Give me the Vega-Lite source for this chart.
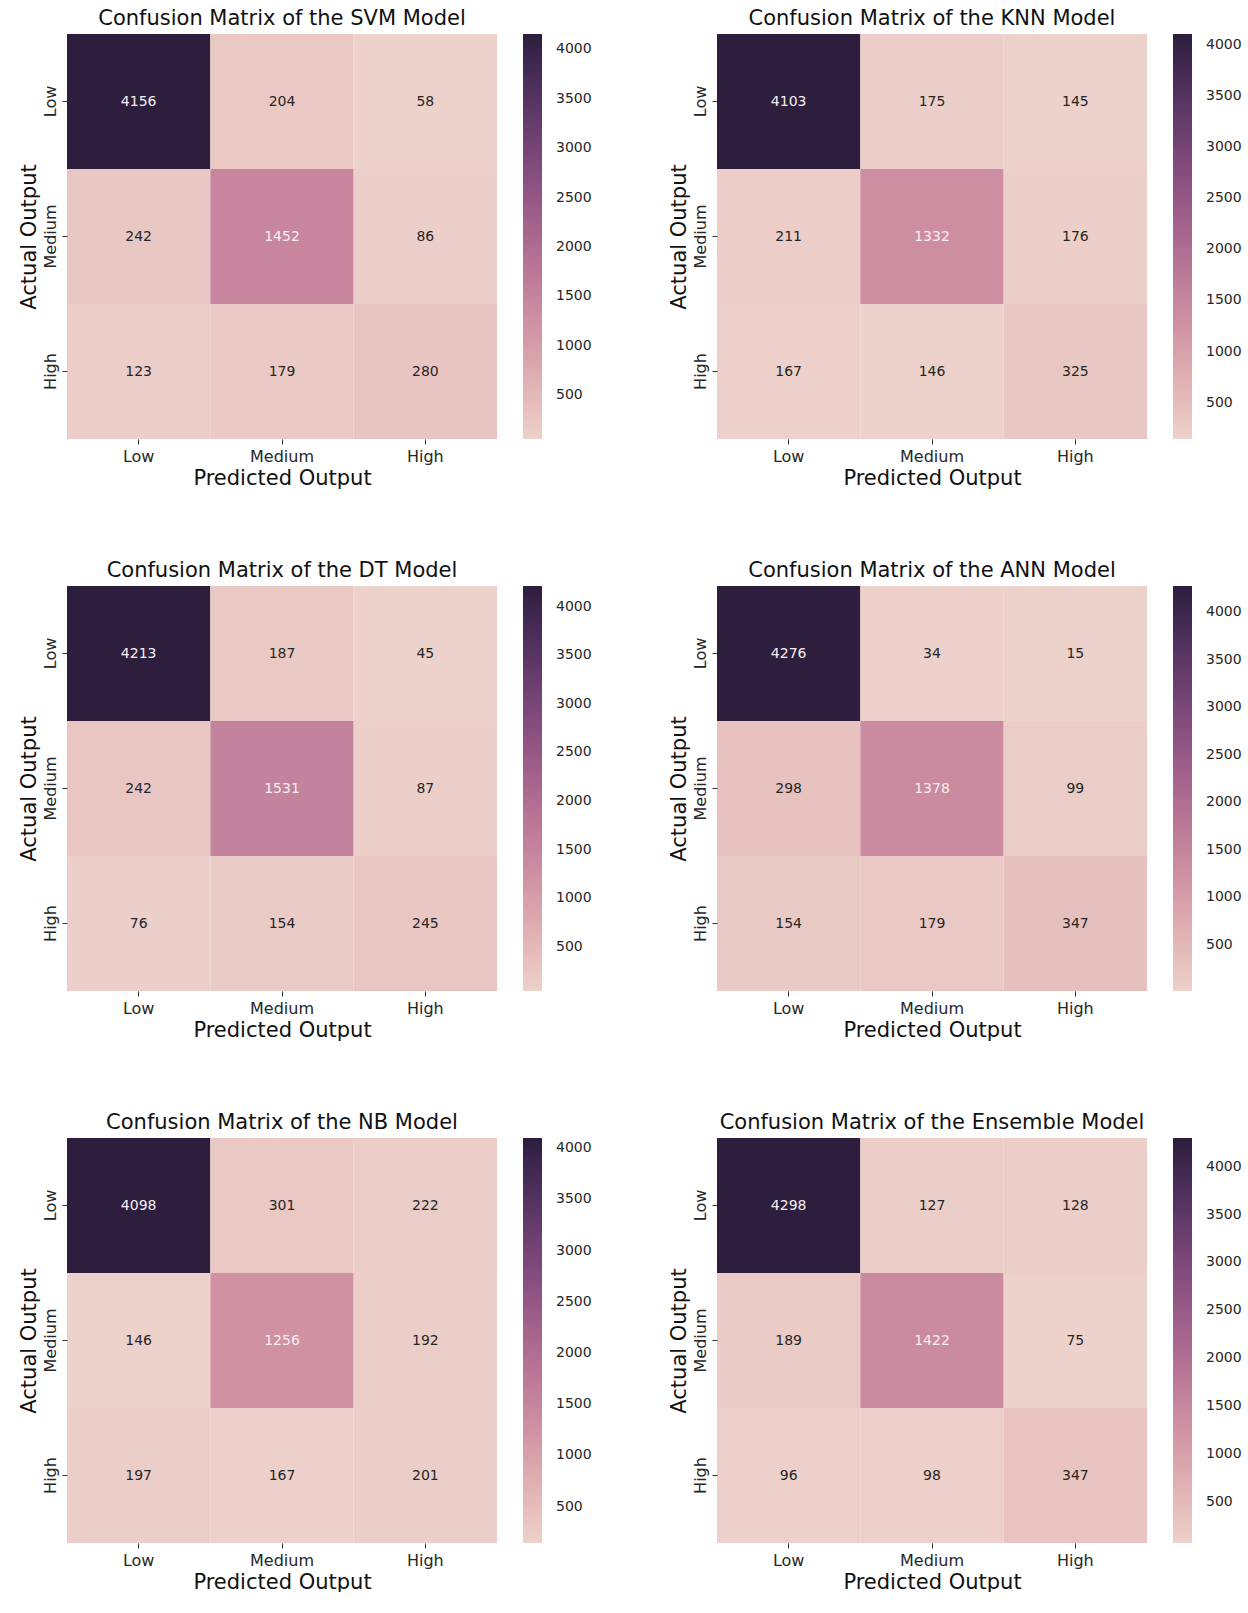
{
  "$schema": "https://vega.github.io/schema/vega-lite/v6.json",
  "background": "white",
  "padding": {"left": 18, "top": 8, "right": 0, "bottom": 0},
  "datasets": {
    "cm": [
      {"model": "SVM", "actual": "Low", "predicted": "Low", "value": 4156},
      {"model": "SVM", "actual": "Low", "predicted": "Medium", "value": 204},
      {"model": "SVM", "actual": "Low", "predicted": "High", "value": 58},
      {"model": "SVM", "actual": "Medium", "predicted": "Low", "value": 242},
      {"model": "SVM", "actual": "Medium", "predicted": "Medium", "value": 1452},
      {"model": "SVM", "actual": "Medium", "predicted": "High", "value": 86},
      {"model": "SVM", "actual": "High", "predicted": "Low", "value": 123},
      {"model": "SVM", "actual": "High", "predicted": "Medium", "value": 179},
      {"model": "SVM", "actual": "High", "predicted": "High", "value": 280},
      {"model": "KNN", "actual": "Low", "predicted": "Low", "value": 4103},
      {"model": "KNN", "actual": "Low", "predicted": "Medium", "value": 175},
      {"model": "KNN", "actual": "Low", "predicted": "High", "value": 145},
      {"model": "KNN", "actual": "Medium", "predicted": "Low", "value": 211},
      {"model": "KNN", "actual": "Medium", "predicted": "Medium", "value": 1332},
      {"model": "KNN", "actual": "Medium", "predicted": "High", "value": 176},
      {"model": "KNN", "actual": "High", "predicted": "Low", "value": 167},
      {"model": "KNN", "actual": "High", "predicted": "Medium", "value": 146},
      {"model": "KNN", "actual": "High", "predicted": "High", "value": 325},
      {"model": "DT", "actual": "Low", "predicted": "Low", "value": 4213},
      {"model": "DT", "actual": "Low", "predicted": "Medium", "value": 187},
      {"model": "DT", "actual": "Low", "predicted": "High", "value": 45},
      {"model": "DT", "actual": "Medium", "predicted": "Low", "value": 242},
      {"model": "DT", "actual": "Medium", "predicted": "Medium", "value": 1531},
      {"model": "DT", "actual": "Medium", "predicted": "High", "value": 87},
      {"model": "DT", "actual": "High", "predicted": "Low", "value": 76},
      {"model": "DT", "actual": "High", "predicted": "Medium", "value": 154},
      {"model": "DT", "actual": "High", "predicted": "High", "value": 245},
      {"model": "ANN", "actual": "Low", "predicted": "Low", "value": 4276},
      {"model": "ANN", "actual": "Low", "predicted": "Medium", "value": 34},
      {"model": "ANN", "actual": "Low", "predicted": "High", "value": 15},
      {"model": "ANN", "actual": "Medium", "predicted": "Low", "value": 298},
      {"model": "ANN", "actual": "Medium", "predicted": "Medium", "value": 1378},
      {"model": "ANN", "actual": "Medium", "predicted": "High", "value": 99},
      {"model": "ANN", "actual": "High", "predicted": "Low", "value": 154},
      {"model": "ANN", "actual": "High", "predicted": "Medium", "value": 179},
      {"model": "ANN", "actual": "High", "predicted": "High", "value": 347},
      {"model": "NB", "actual": "Low", "predicted": "Low", "value": 4098},
      {"model": "NB", "actual": "Low", "predicted": "Medium", "value": 301},
      {"model": "NB", "actual": "Low", "predicted": "High", "value": 222},
      {"model": "NB", "actual": "Medium", "predicted": "Low", "value": 146},
      {"model": "NB", "actual": "Medium", "predicted": "Medium", "value": 1256},
      {"model": "NB", "actual": "Medium", "predicted": "High", "value": 192},
      {"model": "NB", "actual": "High", "predicted": "Low", "value": 197},
      {"model": "NB", "actual": "High", "predicted": "Medium", "value": 167},
      {"model": "NB", "actual": "High", "predicted": "High", "value": 201},
      {"model": "Ensemble", "actual": "Low", "predicted": "Low", "value": 4298},
      {"model": "Ensemble", "actual": "Low", "predicted": "Medium", "value": 127},
      {"model": "Ensemble", "actual": "Low", "predicted": "High", "value": 128},
      {"model": "Ensemble", "actual": "Medium", "predicted": "Low", "value": 189},
      {"model": "Ensemble", "actual": "Medium", "predicted": "Medium", "value": 1422},
      {"model": "Ensemble", "actual": "Medium", "predicted": "High", "value": 75},
      {"model": "Ensemble", "actual": "High", "predicted": "Low", "value": 96},
      {"model": "Ensemble", "actual": "High", "predicted": "Medium", "value": 98},
      {"model": "Ensemble", "actual": "High", "predicted": "High", "value": 347}
    ]
  },
  "resolve": {"scale": {"color": "independent"}, "legend": {"color": "independent"}},
  "spacing": 72,
  "vconcat": [
    {
      "spacing": 76,
      "resolve": {"scale": {"color": "independent"}, "legend": {"color": "independent"}},
      "hconcat": [
        {
          "title": {"text": "Confusion Matrix of the SVM Model"},
          "data": {"name": "cm"},
          "transform": [{"filter": "datum.model === 'SVM'"}],
          "width": 430, "height": 405,
          "encoding": {
            "x": {"field": "predicted", "type": "nominal", "sort": ["Low", "Medium", "High"], "title": "Predicted Output", "scale": {"paddingInner": 0, "paddingOuter": 0}, "axis": {"labelAngle": 0}},
            "y": {"field": "actual", "type": "nominal", "sort": ["Low", "Medium", "High"], "title": "Actual Output", "scale": {"paddingInner": 0, "paddingOuter": 0}, "axis": {"labelAngle": -90}}
          },
          "layer": [
            {"mark": "rect", "encoding": {"color": {"field": "value", "type": "quantitative", "scale": {"zero": false, "nice": false, "range": ["#edd1cb", "#e2b5b6", "#d499a7", "#c17f9a", "#aa678f", "#8d5282", "#6e4071", "#4d2f5b", "#2d1e3e"]}, "legend": {"values": [500, 1000, 1500, 2000, 2500, 3000, 3500, 4000], "format": "d", "labelOffset": 14}}}},
            {"mark": {"type": "text", "fontSize": 14}, "encoding": {"text": {"field": "value", "type": "quantitative", "format": "d"}, "color": {"condition": {"test": "datum.value > 1000", "value": "#f7eef0"}, "value": "#262626"}}}
          ]
        },
        {
          "title": {"text": "Confusion Matrix of the KNN Model"},
          "data": {"name": "cm"},
          "transform": [{"filter": "datum.model === 'KNN'"}],
          "width": 430, "height": 405,
          "encoding": {
            "x": {"field": "predicted", "type": "nominal", "sort": ["Low", "Medium", "High"], "title": "Predicted Output", "scale": {"paddingInner": 0, "paddingOuter": 0}, "axis": {"labelAngle": 0}},
            "y": {"field": "actual", "type": "nominal", "sort": ["Low", "Medium", "High"], "title": "Actual Output", "scale": {"paddingInner": 0, "paddingOuter": 0}, "axis": {"labelAngle": -90}}
          },
          "layer": [
            {"mark": "rect", "encoding": {"color": {"field": "value", "type": "quantitative", "scale": {"zero": false, "nice": false, "range": ["#edd1cb", "#e2b5b6", "#d499a7", "#c17f9a", "#aa678f", "#8d5282", "#6e4071", "#4d2f5b", "#2d1e3e"]}, "legend": {"values": [500, 1000, 1500, 2000, 2500, 3000, 3500, 4000], "format": "d", "labelOffset": 14}}}},
            {"mark": {"type": "text", "fontSize": 14}, "encoding": {"text": {"field": "value", "type": "quantitative", "format": "d"}, "color": {"condition": {"test": "datum.value > 1000", "value": "#f7eef0"}, "value": "#262626"}}}
          ]
        }
      ]
    },
    {
      "spacing": 76,
      "resolve": {"scale": {"color": "independent"}, "legend": {"color": "independent"}},
      "hconcat": [
        {
          "title": {"text": "Confusion Matrix of the DT Model"},
          "data": {"name": "cm"},
          "transform": [{"filter": "datum.model === 'DT'"}],
          "width": 430, "height": 405,
          "encoding": {
            "x": {"field": "predicted", "type": "nominal", "sort": ["Low", "Medium", "High"], "title": "Predicted Output", "scale": {"paddingInner": 0, "paddingOuter": 0}, "axis": {"labelAngle": 0}},
            "y": {"field": "actual", "type": "nominal", "sort": ["Low", "Medium", "High"], "title": "Actual Output", "scale": {"paddingInner": 0, "paddingOuter": 0}, "axis": {"labelAngle": -90}}
          },
          "layer": [
            {"mark": "rect", "encoding": {"color": {"field": "value", "type": "quantitative", "scale": {"zero": false, "nice": false, "range": ["#edd1cb", "#e2b5b6", "#d499a7", "#c17f9a", "#aa678f", "#8d5282", "#6e4071", "#4d2f5b", "#2d1e3e"]}, "legend": {"values": [500, 1000, 1500, 2000, 2500, 3000, 3500, 4000], "format": "d", "labelOffset": 14}}}},
            {"mark": {"type": "text", "fontSize": 14}, "encoding": {"text": {"field": "value", "type": "quantitative", "format": "d"}, "color": {"condition": {"test": "datum.value > 1000", "value": "#f7eef0"}, "value": "#262626"}}}
          ]
        },
        {
          "title": {"text": "Confusion Matrix of the ANN Model"},
          "data": {"name": "cm"},
          "transform": [{"filter": "datum.model === 'ANN'"}],
          "width": 430, "height": 405,
          "encoding": {
            "x": {"field": "predicted", "type": "nominal", "sort": ["Low", "Medium", "High"], "title": "Predicted Output", "scale": {"paddingInner": 0, "paddingOuter": 0}, "axis": {"labelAngle": 0}},
            "y": {"field": "actual", "type": "nominal", "sort": ["Low", "Medium", "High"], "title": "Actual Output", "scale": {"paddingInner": 0, "paddingOuter": 0}, "axis": {"labelAngle": -90}}
          },
          "layer": [
            {"mark": "rect", "encoding": {"color": {"field": "value", "type": "quantitative", "scale": {"zero": false, "nice": false, "range": ["#edd1cb", "#e2b5b6", "#d499a7", "#c17f9a", "#aa678f", "#8d5282", "#6e4071", "#4d2f5b", "#2d1e3e"]}, "legend": {"values": [500, 1000, 1500, 2000, 2500, 3000, 3500, 4000], "format": "d", "labelOffset": 14}}}},
            {"mark": {"type": "text", "fontSize": 14}, "encoding": {"text": {"field": "value", "type": "quantitative", "format": "d"}, "color": {"condition": {"test": "datum.value > 1000", "value": "#f7eef0"}, "value": "#262626"}}}
          ]
        }
      ]
    },
    {
      "spacing": 76,
      "resolve": {"scale": {"color": "independent"}, "legend": {"color": "independent"}},
      "hconcat": [
        {
          "title": {"text": "Confusion Matrix of the NB Model"},
          "data": {"name": "cm"},
          "transform": [{"filter": "datum.model === 'NB'"}],
          "width": 430, "height": 405,
          "encoding": {
            "x": {"field": "predicted", "type": "nominal", "sort": ["Low", "Medium", "High"], "title": "Predicted Output", "scale": {"paddingInner": 0, "paddingOuter": 0}, "axis": {"labelAngle": 0}},
            "y": {"field": "actual", "type": "nominal", "sort": ["Low", "Medium", "High"], "title": "Actual Output", "scale": {"paddingInner": 0, "paddingOuter": 0}, "axis": {"labelAngle": -90}}
          },
          "layer": [
            {"mark": "rect", "encoding": {"color": {"field": "value", "type": "quantitative", "scale": {"zero": false, "nice": false, "range": ["#edd1cb", "#e2b5b6", "#d499a7", "#c17f9a", "#aa678f", "#8d5282", "#6e4071", "#4d2f5b", "#2d1e3e"]}, "legend": {"values": [500, 1000, 1500, 2000, 2500, 3000, 3500, 4000], "format": "d", "labelOffset": 14}}}},
            {"mark": {"type": "text", "fontSize": 14}, "encoding": {"text": {"field": "value", "type": "quantitative", "format": "d"}, "color": {"condition": {"test": "datum.value > 1000", "value": "#f7eef0"}, "value": "#262626"}}}
          ]
        },
        {
          "title": {"text": "Confusion Matrix of the Ensemble Model"},
          "data": {"name": "cm"},
          "transform": [{"filter": "datum.model === 'Ensemble'"}],
          "width": 430, "height": 405,
          "encoding": {
            "x": {"field": "predicted", "type": "nominal", "sort": ["Low", "Medium", "High"], "title": "Predicted Output", "scale": {"paddingInner": 0, "paddingOuter": 0}, "axis": {"labelAngle": 0}},
            "y": {"field": "actual", "type": "nominal", "sort": ["Low", "Medium", "High"], "title": "Actual Output", "scale": {"paddingInner": 0, "paddingOuter": 0}, "axis": {"labelAngle": -90}}
          },
          "layer": [
            {"mark": "rect", "encoding": {"color": {"field": "value", "type": "quantitative", "scale": {"zero": false, "nice": false, "range": ["#edd1cb", "#e2b5b6", "#d499a7", "#c17f9a", "#aa678f", "#8d5282", "#6e4071", "#4d2f5b", "#2d1e3e"]}, "legend": {"values": [500, 1000, 1500, 2000, 2500, 3000, 3500, 4000], "format": "d", "labelOffset": 14}}}},
            {"mark": {"type": "text", "fontSize": 14}, "encoding": {"text": {"field": "value", "type": "quantitative", "format": "d"}, "color": {"condition": {"test": "datum.value > 1000", "value": "#f7eef0"}, "value": "#262626"}}}
          ]
        }
      ]
    }
  ],
  "config": {
    "font": "DejaVu Sans",
    "view": {"stroke": null},
    "title": {"fontSize": 21, "fontWeight": "normal", "color": "#111111", "offset": 5, "anchor": "middle"},
    "axis": {"labelFontSize": 16, "titleFontSize": 21, "titleFontWeight": "normal", "domain": false, "ticks": true, "tickSize": 5, "tickColor": "#333333", "labelColor": "#262626", "titleColor": "#111111", "labelPadding": 4, "titlePadding": 3},
    "legend": {"title": null, "orient": "right", "direction": "vertical", "gradientLength": 405, "gradientThickness": 19, "gradientStrokeWidth": 0, "labelFontSize": 14, "labelColor": "#262626", "labelOffset": 14, "offset": 26, "labelOverlap": false}
  }
}
